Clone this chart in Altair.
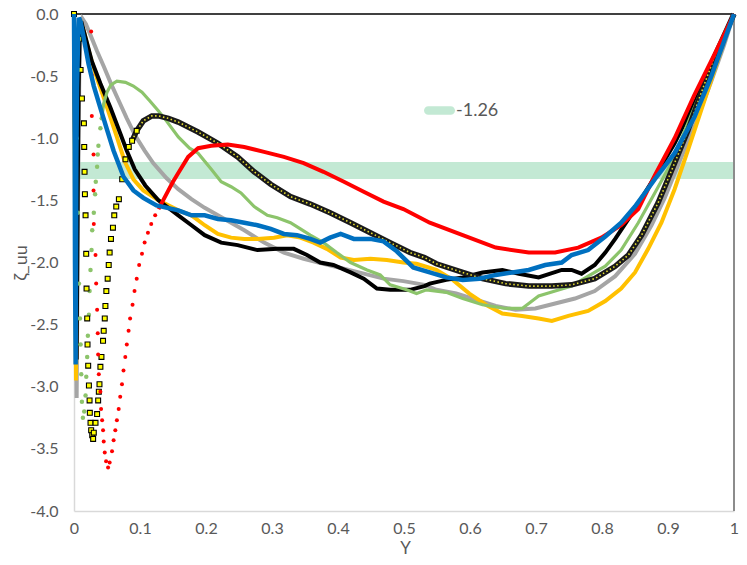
import altair as alt
import pandas as pd

# ---------------- data ----------------
BAND_NAME = "-1.26"
BAND_VALUE = -1.26

GRAY_X = [0, 0.002, 0.004, 0.006, 0.008, 0.010, 0.013, 0.018, 0.025, 0.035, 0.045, 0.056, 0.068, 0.08, 0.093, 0.107, 0.12, 0.14, 0.158, 0.178, 0.198, 0.228, 0.258, 0.288, 0.318, 0.348, 0.378, 0.409, 0.439, 0.469, 0.499, 0.531, 0.549, 0.579, 0.609, 0.639, 0.669, 0.699, 0.729, 0.759, 0.789, 0.82, 0.85, 0.875, 0.895, 0.915, 0.94, 0.965, 0.985, 1.0]
GRAY_Y = [0, -1.5, -3.09, -1.6, -0.5, -0.12, -0.04, -0.08, -0.17, -0.3, -0.42, -0.56, -0.7, -0.84, -0.98, -1.1, -1.2, -1.32, -1.41, -1.49, -1.56, -1.65, -1.74, -1.84, -1.92, -1.97, -2.01, -2.05, -2.09, -2.13, -2.15, -2.18, -2.22, -2.25, -2.30, -2.35, -2.38, -2.37, -2.33, -2.29, -2.23, -2.11, -1.93, -1.70, -1.48, -1.22, -0.90, -0.55, -0.25, 0]

YELLOW_X = [0, 0.0015, 0.003, 0.0045, 0.006, 0.0075, 0.0095, 0.015, 0.024, 0.035, 0.048, 0.065, 0.077, 0.09, 0.105, 0.128, 0.158, 0.178, 0.198, 0.218, 0.238, 0.258, 0.278, 0.303, 0.323, 0.343, 0.363, 0.383, 0.404, 0.424, 0.449, 0.474, 0.499, 0.519, 0.549, 0.574, 0.599, 0.624, 0.649, 0.679, 0.704, 0.724, 0.749, 0.779, 0.805, 0.829, 0.85, 0.87, 0.89, 0.91, 0.93, 0.95, 0.97, 0.99, 1.0]
YELLOW_Y = [0, -1.5, -2.95, -1.6, -0.6, -0.15, -0.05, -0.14, -0.33, -0.52, -0.72, -0.99, -1.19, -1.33, -1.42, -1.5, -1.58, -1.62, -1.70, -1.77, -1.80, -1.81, -1.81, -1.80, -1.78, -1.80, -1.84, -1.89, -1.96, -1.98, -1.97, -1.98, -2.00, -2.01, -2.06, -2.14, -2.25, -2.34, -2.41, -2.43, -2.45, -2.47, -2.43, -2.39, -2.31, -2.21, -2.08, -1.89, -1.68, -1.41, -1.10, -0.78, -0.46, -0.14, 0]

BLACK_X = [0, 0.002, 0.004, 0.0055, 0.007, 0.0085, 0.011, 0.018, 0.027, 0.04, 0.055, 0.07, 0.08, 0.092, 0.108, 0.128, 0.158, 0.178, 0.198, 0.223, 0.248, 0.278, 0.308, 0.333, 0.353, 0.373, 0.393, 0.419, 0.439, 0.459, 0.479, 0.509, 0.531, 0.539, 0.564, 0.589, 0.619, 0.649, 0.674, 0.704, 0.739, 0.754, 0.769, 0.789, 0.805, 0.82, 0.85, 0.88, 0.91, 0.94, 0.97, 1.0]
BLACK_Y = [0, -1.4, -2.78, -1.5, -0.6, -0.15, -0.06, -0.2, -0.38, -0.56, -0.75, -0.96, -1.1, -1.25, -1.38, -1.5, -1.62, -1.70, -1.78, -1.84, -1.86, -1.90, -1.89, -1.89, -1.94, -2.00, -2.02, -2.08, -2.13, -2.21, -2.22, -2.22, -2.19, -2.17, -2.14, -2.12, -2.08, -2.06, -2.09, -2.12, -2.06, -2.06, -2.09, -2.02, -1.92, -1.81, -1.57, -1.31, -1.04, -0.72, -0.35, 0]

GREEN_DOT_X = [0.002, 0.004, 0.006, 0.0075, 0.009, 0.010, 0.011, 0.012, 0.0135, 0.0155, 0.0175, 0.0186, 0.020, 0.021, 0.0226, 0.0236, 0.025, 0.0266, 0.0276, 0.030, 0.032, 0.033, 0.035, 0.036, 0.037, 0.040, 0.042]
GREEN_DOT_Y = [-0.5, -1.0, -1.6, -2.17, -2.45, -2.66, -2.9, -3.12, -3.25, -3.2, -3.07, -2.92, -2.76, -2.59, -2.42, -2.23, -2.06, -1.90, -1.74, -1.60, -1.45, -1.35, -1.23, -1.13, -1.06, -0.92, -0.84]
GREEN_X = [0.042, 0.045, 0.05, 0.056, 0.065, 0.078, 0.09, 0.103, 0.115, 0.128, 0.14, 0.158, 0.175, 0.188, 0.208, 0.223, 0.238, 0.253, 0.273, 0.293, 0.308, 0.328, 0.343, 0.358, 0.378, 0.398, 0.419, 0.444, 0.464, 0.479, 0.504, 0.519, 0.534, 0.564, 0.589, 0.619, 0.654, 0.679, 0.689, 0.704, 0.729, 0.754, 0.779, 0.805, 0.829, 0.855, 0.88, 0.905, 0.93, 0.955, 0.98, 1.0]
GREEN_Y = [-0.84, -0.72, -0.63, -0.57, -0.54, -0.55, -0.58, -0.63, -0.70, -0.78, -0.86, -0.99, -1.08, -1.12, -1.25, -1.35, -1.39, -1.44, -1.55, -1.62, -1.64, -1.68, -1.73, -1.78, -1.84, -1.92, -2.00, -2.06, -2.10, -2.18, -2.22, -2.25, -2.22, -2.24, -2.29, -2.34, -2.37, -2.37, -2.33, -2.27, -2.23, -2.19, -2.11, -2.03, -1.90, -1.68, -1.44, -1.20, -0.88, -0.56, -0.25, 0]

SQ_DOT_X = [0, 0.008, 0.010, 0.012, 0.015, 0.0155, 0.016, 0.0165, 0.0175, 0.0185, 0.019, 0.020, 0.0205, 0.0215, 0.0226, 0.0236, 0.024, 0.025, 0.026, 0.0276, 0.029, 0.030, 0.0326, 0.035, 0.0366, 0.0376, 0.0386, 0.040, 0.0416, 0.044, 0.045, 0.0466, 0.0476, 0.049, 0.051, 0.0526, 0.054, 0.056, 0.059, 0.061, 0.064, 0.068, 0.073, 0.078, 0.083, 0.088, 0.095]
SQ_DOT_Y = [0, -0.2, -0.45, -0.68, -0.88, -1.07, -1.27, -1.45, -1.62, -1.93, -2.21, -2.45, -2.66, -2.83, -2.99, -3.11, -3.21, -3.29, -3.35, -3.39, -3.42, -3.37, -3.29, -3.22, -3.11, -3.04, -2.98, -2.84, -2.76, -2.63, -2.55, -2.45, -2.35, -2.23, -2.13, -2.02, -1.92, -1.81, -1.72, -1.62, -1.55, -1.49, -1.33, -1.17, -1.07, -1.02, -0.94]
SQ_X = [0.088, 0.095, 0.105, 0.118, 0.128, 0.143, 0.158, 0.188, 0.218, 0.248, 0.273, 0.298, 0.328, 0.358, 0.388, 0.419, 0.449, 0.479, 0.509, 0.531, 0.549, 0.589, 0.619, 0.654, 0.689, 0.724, 0.754, 0.789, 0.82, 0.84, 0.86, 0.885, 0.91, 0.93, 0.95, 0.97, 1.0]
SQ_Y = [-1.02, -0.94, -0.86, -0.82, -0.82, -0.84, -0.87, -0.95, -1.04, -1.15, -1.27, -1.37, -1.47, -1.53, -1.60, -1.68, -1.76, -1.84, -1.92, -1.96, -2.01, -2.08, -2.13, -2.17, -2.19, -2.19, -2.18, -2.13, -2.03, -1.94, -1.78, -1.52, -1.20, -0.94, -0.64, -0.35, 0]

RED_DOT_X = [0.026, 0.027, 0.027, 0.0296, 0.0296, 0.030, 0.0326, 0.0336, 0.035, 0.036, 0.0366, 0.0376, 0.040, 0.041, 0.0426, 0.044, 0.045, 0.0466, 0.0486, 0.0516, 0.054, 0.0576, 0.060, 0.0626, 0.065, 0.0677, 0.070, 0.0727, 0.075, 0.0777, 0.080, 0.0827, 0.085, 0.0887, 0.0917, 0.095, 0.0987, 0.103, 0.107, 0.112, 0.117, 0.123]
RED_DOT_Y = [-0.14, -0.49, -0.82, -1.13, -1.42, -1.69, -1.94, -2.17, -2.38, -2.57, -2.74, -2.90, -3.04, -3.18, -3.27, -3.35, -3.44, -3.53, -3.60, -3.65, -3.61, -3.52, -3.43, -3.35, -3.27, -3.18, -3.08, -2.98, -2.87, -2.76, -2.66, -2.55, -2.45, -2.34, -2.23, -2.13, -2.02, -1.93, -1.84, -1.76, -1.69, -1.62]
RED_X = [0.128, 0.135, 0.143, 0.15, 0.158, 0.173, 0.188, 0.208, 0.233, 0.258, 0.288, 0.318, 0.348, 0.378, 0.409, 0.439, 0.469, 0.499, 0.539, 0.589, 0.639, 0.689, 0.729, 0.764, 0.799, 0.829, 0.855, 0.88, 0.91, 0.94, 0.97, 1.0]
RED_Y = [-1.57, -1.50, -1.42, -1.35, -1.28, -1.15, -1.08, -1.06, -1.05, -1.07, -1.11, -1.15, -1.20, -1.27, -1.35, -1.43, -1.51, -1.57, -1.68, -1.78, -1.88, -1.92, -1.92, -1.88, -1.80, -1.70, -1.57, -1.30, -1.00, -0.65, -0.33, 0]

BLUE_X = [0, 0.001, 0.0015, 0.0025, 0.003, 0.0035, 0.0045, 0.0060, 0.0075, 0.010, 0.015, 0.022, 0.030, 0.039, 0.05, 0.06, 0.075, 0.09, 0.105, 0.125, 0.158, 0.178, 0.198, 0.218, 0.238, 0.258, 0.278, 0.298, 0.318, 0.338, 0.358, 0.373, 0.388, 0.404, 0.424, 0.449, 0.469, 0.489, 0.514, 0.539, 0.564, 0.589, 0.614, 0.639, 0.664, 0.689, 0.714, 0.739, 0.754, 0.779, 0.805, 0.829, 0.85, 0.88, 0.91, 0.94, 0.965, 0.985, 1.0]
BLUE_Y = [0, -1.0, -2.0, -2.82, -2.0, -1.2, -0.6, -0.25, -0.03, -0.06, -0.2, -0.4, -0.58, -0.74, -0.93, -1.1, -1.31, -1.42, -1.48, -1.54, -1.58, -1.62, -1.62, -1.65, -1.66, -1.68, -1.70, -1.73, -1.77, -1.78, -1.81, -1.84, -1.80, -1.77, -1.81, -1.81, -1.83, -1.91, -2.04, -2.08, -2.12, -2.14, -2.13, -2.10, -2.08, -2.06, -2.02, -2.00, -1.94, -1.90, -1.79, -1.68, -1.55, -1.33, -1.12, -0.83, -0.51, -0.22, 0]

X_TICKS = [0, 0.1, 0.2, 0.3, 0.4, 0.5, 0.6, 0.7, 0.8, 0.9, 1.0]
Y_TICKS = [0, -0.5, -1.0, -1.5, -2.0, -2.5, -3.0, -3.5, -4.0]

# ---------------- styling ----------------
FONT = "Lato, 'DejaVu Sans', sans-serif"
TXT = "#595959"
BAND_HALF = 0.068
W, H = 660, 497
PAD = {"left": 66, "top": 6, "right": 5, "bottom": 45}

xscale = alt.Scale(domain=[0, 1], nice=False, zero=False)
yscale = alt.Scale(domain=[-4, 0], nice=False, zero=False)
xaxis = alt.Axis(values=X_TICKS, format=".1~f", grid=False, ticks=False, labelFlush=False,
                 domainColor="#D9D9D9", domainWidth=1.5,
                 labelFont=FONT, labelFontSize=16, labelColor=TXT, labelPadding=9,
                 title="Y", titleFont=FONT, titleFontSize=17, titleFontWeight="normal",
                 titleColor=TXT, titleX=W / 2 + 1, titleY=37, titleBaseline="middle")
yaxis = alt.Axis(values=Y_TICKS, labelExpr="replace(format(datum.value, '.1f'), '\u2212', '-')",
                 grid=False, ticks=False, labelFlush=False, domainColor="#D9D9D9", domainWidth=1.5,
                 labelFont=FONT, labelFontSize=16, labelColor=TXT, labelPadding=16,
                 title="\u03b6_uu", titleFont=FONT, titleFontSize=18, titleFontWeight="normal",
                 titleColor=TXT, titleX=-53, titleY=H / 2, titleAngle=270,
                 titleAlign="center", titleBaseline="middle")


def X(f="x"):
    return alt.X(f"{f}:Q", scale=xscale, axis=xaxis)


def Y(f="y"):
    return alt.Y(f"{f}:Q", scale=yscale, axis=yaxis)


def frame(xs, ys):
    return pd.DataFrame({"x": xs, "y": ys, "i": list(range(len(xs)))})


def line(xs, ys, color, width, **kw):
    return alt.Chart(frame(xs, ys)).mark_line(color=color, strokeWidth=width, **kw).encode(
        x=X(), y=Y(), order=alt.Order("i:Q"))


band_df = pd.DataFrame({"x": [0], "xe": [1], "y": [BAND_VALUE - BAND_HALF],
                        "ye": [BAND_VALUE + BAND_HALF], "name": [BAND_NAME]})
PILL = "M-0.72,-0.28L0.72,-0.28A0.28,0.28,0,0,1,0.72,0.28L-0.72,0.28A0.28,0.28,0,0,1,-0.72,-0.28Z"
band = alt.Chart(band_df).mark_rect(opacity=1).encode(
    x=X(), x2=alt.X2("xe"), y=Y(), y2=alt.Y2("ye"),
    color=alt.Color("name:N", scale=alt.Scale(range=["#C3E9D4"]),
                    legend=alt.Legend(orient="none", legendX=350, legendY=81, title=None,
                                      symbolType=PILL, symbolSize=961, symbolStrokeWidth=0,
                                      labelFont=FONT, labelFontSize=18, labelColor=TXT,
                                      labelOffset=1, padding=0)))

top_rule = alt.Chart(pd.DataFrame({"y": [0]})).mark_rule(color="black", strokeWidth=1.5).encode(y=Y())
right_rule = alt.Chart(pd.DataFrame({"x": [1]})).mark_rule(color="#8C8C8C", strokeWidth=2).encode(x=X())

gray = line(GRAY_X, GRAY_Y, "#A5A5A5", 4)
yellow = line(YELLOW_X, YELLOW_Y, "#FFC000", 4)
black = line(BLACK_X, BLACK_Y, "#000000", 4)
green_dots = alt.Chart(frame(GREEN_DOT_X, GREEN_DOT_Y)).mark_circle(size=20, color="#8CC46B", opacity=1).encode(x=X(), y=Y())
green = line(GREEN_X, GREEN_Y, "#8CC46B", 3.2)
sq_line = line(SQ_X, SQ_Y, "#1A1A1A", 5.5)
sq_line2 = line(SQ_X, SQ_Y, "#E8E030", 1.6, strokeDash=[1.5, 2.5])
sq_dots = alt.Chart(frame(SQ_DOT_X, SQ_DOT_Y)).mark_square(size=24, filled=True, fill="#FFFF00",
                                                          stroke="black", strokeWidth=1.1, opacity=1).encode(x=X(), y=Y())
red_dots = alt.Chart(frame(RED_DOT_X, RED_DOT_Y)).mark_circle(size=16, color="#FF0000", opacity=1).encode(x=X(), y=Y())
red = line(RED_X, RED_Y, "#FF0000", 4)
blue = line(BLUE_X, BLUE_Y, "#0070C0", 4.5)

chart = alt.layer(band, top_rule, right_rule, gray, yellow, black, green_dots, green,
                  sq_line, sq_line2, sq_dots, red_dots, red, blue).properties(
    width=W, height=H,
    autosize=alt.AutoSizeParams(type="none"),
    padding=PAD,
    background="white",
).configure_view(stroke=None)

chart.save("out.html", embed_options={"renderer": "svg", "actions": False})
